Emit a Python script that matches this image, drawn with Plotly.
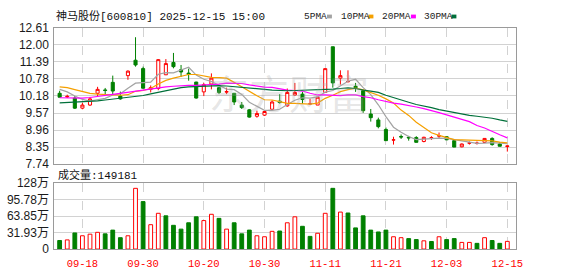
import plotly.graph_objects as go
import numpy as np

# ---------------- data ----------------
dates = ["09-15", "09-16", "09-17", "09-18", "09-19", "09-22", "09-23", "09-24", "09-25", "09-26",
         "09-29", "09-30", "10-09", "10-10", "10-13", "10-14", "10-15", "10-16", "10-17", "10-20",
         "10-21", "10-22", "10-23", "10-24", "10-27", "10-28", "10-29", "10-30", "10-31", "11-03",
         "11-04", "11-05", "11-06", "11-07", "11-10", "11-11", "11-12", "11-13", "11-14", "11-17",
         "11-18", "11-19", "11-20", "11-21", "11-24", "11-25", "11-26", "11-27", "11-28", "12-01",
         "12-02", "12-03", "12-04", "12-05", "12-08", "12-09", "12-10", "12-11", "12-12", "12-15"]

open_ = [10.27, 10.14, 10.10, 9.74, 9.85, 10.27, 10.39, 10.66, 10.17, 10.90,
         11.45, 11.15, 10.41, 10.44, 10.93, 11.37, 11.11, 10.99, 10.67, 10.32,
         10.60, 10.47, 10.31, 10.27, 9.85, 9.68, 9.45, 9.49, 9.70, 9.99,
         9.82, 10.21, 10.24, 9.89, 9.85, 10.30, 11.93, 10.81, 10.68, 10.52,
         10.36, 9.53, 9.32, 8.98, 8.60, 8.73, 8.70, 8.69, 8.55, 8.68,
         8.74, 8.72, 8.58, 8.36, 8.49, 8.48, 8.52, 8.66, 8.46, 8.37]
high = [10.36, 10.22, 10.17, 9.93, 10.14, 10.50, 10.46, 10.90, 10.33, 11.09,
        12.27, 11.22, 10.55, 11.49, 11.49, 11.71, 11.28, 11.15, 10.68, 10.64,
        10.98, 10.48, 10.47, 10.28, 9.96, 9.71, 9.65, 9.65, 10.02, 10.24,
        10.44, 10.64, 10.32, 10.07, 10.13, 11.15, 11.93, 11.09, 11.09, 10.64,
        10.41, 9.71, 9.40, 9.05, 8.72, 8.80, 8.75, 8.74, 8.72, 8.74,
        8.87, 8.74, 8.64, 8.48, 8.55, 8.55, 8.67, 8.70, 8.52, 8.41]
low = [10.12, 10.10, 9.71, 9.70, 9.82, 10.17, 10.24, 10.24, 10.04, 10.75,
       11.22, 10.44, 10.30, 10.38, 10.92, 11.16, 10.85, 10.72, 10.08, 10.17,
       10.41, 10.24, 10.24, 9.85, 9.71, 9.40, 9.40, 9.46, 9.68, 9.90,
       9.79, 10.19, 9.90, 9.85, 9.85, 10.30, 10.47, 10.58, 10.66, 10.32,
       9.57, 9.26, 9.02, 8.58, 8.44, 8.64, 8.58, 8.52, 8.52, 8.61,
       8.66, 8.60, 8.35, 8.34, 8.44, 8.44, 8.50, 8.40, 8.38, 8.19]
close = [10.13, 10.16, 9.74, 9.85, 10.07, 10.41, 10.37, 10.35, 10.07, 11.06,
         11.28, 10.45, 10.47, 11.47, 11.33, 11.22, 11.03, 10.94, 10.10, 10.58,
         10.81, 10.30, 10.33, 9.96, 9.76, 9.42, 9.55, 9.62, 9.96, 9.94,
         10.30, 10.30, 10.05, 9.90, 10.13, 11.15, 10.64, 10.90, 10.69, 10.47,
         9.65, 9.40, 9.08, 8.58, 8.61, 8.71, 8.68, 8.52, 8.70, 8.69,
         8.76, 8.61, 8.35, 8.46, 8.50, 8.49, 8.66, 8.44, 8.38, 8.39]

# volume in 万 (10k lots)
volume = [16.6, 17.8, 31.3, 25.8, 28.9, 32.5, 29.5, 36.8, 22.1, 25.8,
          117.9, 92.1, 47.3, 69.4, 64.5, 46.1, 38.7, 51.0, 62.6, 55.3,
          67.5, 59.6, 38.7, 51.0, 29.5, 36.8, 25.8, 23.9, 34.4, 35.0,
          51.0, 62.6, 44.2, 24.6, 30.7, 69.4, 117.9, 71.8, 70.0, 41.1,
          64.5, 36.8, 33.2, 36.8, 23.9, 22.1, 20.3, 18.4, 16.0, 14.7,
          23.9, 18.4, 20.3, 12.9, 12.9, 11.1, 22.1, 16.6, 11.1, 14.9181]

ma5 = [10.41, 10.32, 10.17, 10.05, 9.99, 10.05, 10.09, 10.21, 10.25, 10.45,
       10.63, 10.65, 10.67, 10.95, 11.01, 11.00, 11.10, 11.20, 10.92, 10.77,
       10.69, 10.55, 10.42, 10.40, 10.23, 9.95, 9.80, 9.66, 9.66, 9.70,
       9.87, 10.02, 10.11, 10.10, 10.14, 10.31, 10.37, 10.54, 10.70, 10.77,
       10.47, 10.22, 9.86, 9.44, 9.06, 8.88, 8.73, 8.62, 8.64, 8.66,
       8.67, 8.66, 8.62, 8.57, 8.54, 8.48, 8.49, 8.51, 8.49, 8.47]
ma10 = [10.50, 10.47, 10.40, 10.33, 10.27, 10.24, 10.22, 10.20, 10.20, 10.22,
        10.34, 10.37, 10.44, 10.60, 10.73, 10.81, 10.88, 10.94, 10.94, 10.89,
        10.84, 10.83, 10.81, 10.66, 10.50, 10.32, 10.18, 10.04, 10.03, 9.97,
        9.91, 9.91, 9.89, 9.88, 9.92, 10.09, 10.20, 10.33, 10.40, 10.45,
        10.39, 10.30, 10.20, 10.07, 9.92, 9.67, 9.48, 9.24, 9.04, 8.86,
        8.77, 8.69, 8.62, 8.61, 8.60, 8.58, 8.57, 8.57, 8.53, 8.50]
ma20 = [10.11, 10.10, 10.10, 10.10, 10.12, 10.15, 10.19, 10.23, 10.27, 10.31,
        10.35, 10.39, 10.43, 10.47, 10.50, 10.52, 10.54, 10.55, 10.55, 10.56,
        10.59, 10.60, 10.63, 10.63, 10.62, 10.57, 10.53, 10.49, 10.48, 10.43,
        10.38, 10.37, 10.35, 10.27, 10.21, 10.21, 10.19, 10.19, 10.21, 10.21,
        10.15, 10.11, 10.04, 9.97, 9.92, 9.88, 9.84, 9.78, 9.72, 9.66,
        9.58, 9.50, 9.41, 9.34, 9.26, 9.12, 9.03, 8.90, 8.79, 8.68]
ma30 = [9.93, 9.94, 9.95, 9.96, 9.98, 10.00, 10.03, 10.06, 10.09, 10.12,
        10.15, 10.19, 10.25, 10.31, 10.37, 10.43, 10.47, 10.50, 10.51, 10.53,
        10.54, 10.54, 10.53, 10.51, 10.49, 10.46, 10.43, 10.41, 10.38, 10.36,
        10.36, 10.37, 10.38, 10.38, 10.38, 10.41, 10.42, 10.44, 10.46, 10.44,
        10.38, 10.35, 10.30, 10.20, 10.11, 10.03, 9.95, 9.87, 9.82, 9.76,
        9.69, 9.64, 9.57, 9.52, 9.48, 9.45, 9.42, 9.38, 9.32, 9.27]

price_tick_labels = ["7.74", "8.35", "8.96", "9.57", "10.18", "10.78", "11.39", "12.00", "12.61"]
price_min, price_max = 7.74, 12.61
vol_tick_labels = ["0", "31.93万", "63.85万", "95.78万", "128万"]
vol_max = 127.7
date_tick_labels = ["09-18", "09-30", "10-20", "10-30", "11-11", "11-21", "12-03", "12-15"]

title_text = "神马股份[600810] 2025-12-15 15:00"
vol_title = "成交量:149181"
ma_names = ["5PMA", "10PMA", "20PMA", "30PMA"]

# ---------------- styles ----------------
RED = "#ff0000"
GREEN = "#008000"
MA_COLORS = ["#a3a3a3", "#f5a000", "#ff00ff", "#00703a"]
GRID = "#d2d2d2"
BORDER = "#9a9a9a"
W, H = 578, 276
PX_L, PX_R = 55, 522
MAIN_T, MAIN_B = 21.8, 165.6
VOL_T, VOL_B = 185.7, 255.0

x = list(range(len(dates)))
date_tick_idx = [dates.index(d) for d in date_tick_labels]
price_tickvals = list(np.linspace(price_min, price_max, len(price_tick_labels)))
vol_tickvals = list(np.linspace(0, vol_max, len(vol_tick_labels)))

vol_colors = []
for i in range(len(close)):
    up = (close[i] >= close[i - 1]) if i > 0 else (close[i] >= open_[i])
    vol_colors.append(RED if up else GREEN)
vol_fill = ["white" if c == RED else c for c in vol_colors]

fig = go.Figure()

for name, vals, col in zip(ma_names, [ma5, ma10, ma20, ma30], MA_COLORS):
    fig.add_trace(go.Scatter(x=x, y=vals, mode="lines", name=name,
                             line=dict(color=col, width=1.2), hoverinfo="skip",
                             xaxis="x", yaxis="y"))

fig.add_trace(go.Candlestick(
    x=x, open=open_, high=high, low=low, close=close,
    increasing=dict(line=dict(color=RED, width=1), fillcolor="white"),
    decreasing=dict(line=dict(color=GREEN, width=1), fillcolor=GREEN),
    whiskerwidth=0, xaxis="x", yaxis="y", name="K"))

fig.add_trace(go.Bar(x=x, y=volume, width=0.5,
                     marker=dict(color=vol_fill, line=dict(color=vol_colors, width=1)),
                     xaxis="x2", yaxis="y2", name="VOL"))

xdom = [PX_L / W, PX_R / W]
tick_font_y = dict(family="Liberation Sans, Arial, Noto Sans CJK SC", size=12, color="#1a1a1a")

fig.update_layout(
    width=W, height=H, autosize=False,
    margin=dict(l=0, r=0, t=0, b=0),
    paper_bgcolor="white", plot_bgcolor="white",
    showlegend=False, boxgap=0.42,
    xaxis=dict(domain=xdom, range=[-0.7, 60.1], anchor="y",
               tickmode="array", tickvals=date_tick_idx, ticktext=date_tick_labels,
               showticklabels=False, ticks="",
               showgrid=True, gridcolor=GRID, griddash="dash", gridwidth=1,
               showline=True, mirror=True, linecolor=BORDER, linewidth=1,
               zeroline=False, rangeslider=dict(visible=False), fixedrange=True),
    yaxis=dict(domain=[1 - MAIN_B / H, 1 - MAIN_T / H], range=[price_min, price_max], anchor="x",
               tickmode="array", tickvals=price_tickvals, ticktext=price_tick_labels,
               ticks="", tickfont=tick_font_y, ticklabelstandoff=2,
               showgrid=True, gridcolor=GRID, gridwidth=1,
               showline=True, mirror=True, linecolor=BORDER, linewidth=1,
               zeroline=False, fixedrange=True),
    xaxis2=dict(domain=xdom, range=[-0.7, 60.1], anchor="y2", matches="x",
                tickmode="array", tickvals=date_tick_idx, ticktext=date_tick_labels,
                ticks="", tickfont=dict(family="Liberation Mono, DejaVu Sans Mono", size=10.5, color=RED),
                ticklabelstandoff=4,
                showgrid=True, gridcolor=GRID, griddash="dash", gridwidth=1,
                showline=True, mirror=True, linecolor=BORDER, linewidth=1,
                zeroline=False, fixedrange=True),
    yaxis2=dict(domain=[1 - VOL_B / H, 1 - VOL_T / H], range=[0, vol_max], anchor="x2",
                tickmode="array", tickvals=vol_tickvals, ticktext=vol_tick_labels,
                ticks="", tickfont=tick_font_y, ticklabelstandoff=2,
                showgrid=True, gridcolor=GRID, gridwidth=1,
                showline=True, mirror=True, linecolor=BORDER, linewidth=1,
                zeroline=False, fixedrange=True),
)

label_font = dict(family="Liberation Mono, Noto Sans CJK SC", size=11, color="#111111")
ann = [
    dict(text=title_text, x=PX_L / W, y=1 - 9.5 / H, xref="paper", yref="paper",
         xanchor="left", yanchor="middle", showarrow=False, font=label_font),
    dict(text=vol_title, x=57 / W, y=1 - 177 / H, xref="paper", yref="paper",
         xanchor="left", yanchor="middle", showarrow=False, font=label_font),
    dict(text="东方财富", x=293 / W, y=1 - 90 / H, xref="paper", yref="paper",
         xanchor="center", yanchor="middle", showarrow=False,
         font=dict(family="Noto Sans CJK SC", size=40, color="rgba(170,170,170,0.3)")),
]
legend_text_x = [306, 343, 385, 427]
legend_sq_x = [331, 373, 416, 457]
shapes = []
for name, col, tx, sx in zip(ma_names, MA_COLORS, legend_text_x, legend_sq_x):
    ann.append(dict(text=name, x=tx / W, y=1 - 9.5 / H, xref="paper", yref="paper",
                    xanchor="left", yanchor="middle", showarrow=False,
                    font=dict(family="Liberation Mono", size=9.5, color="#222222")))
    shapes.append(dict(type="rect", xref="paper", yref="paper",
                       x0=sx / W, x1=(sx + 5) / W, y0=1 - 12 / H, y1=1 - 8 / H,
                       fillcolor=col, line=dict(width=0)))
fig.update_layout(annotations=ann, shapes=shapes)

fig.write_html("out.html")
